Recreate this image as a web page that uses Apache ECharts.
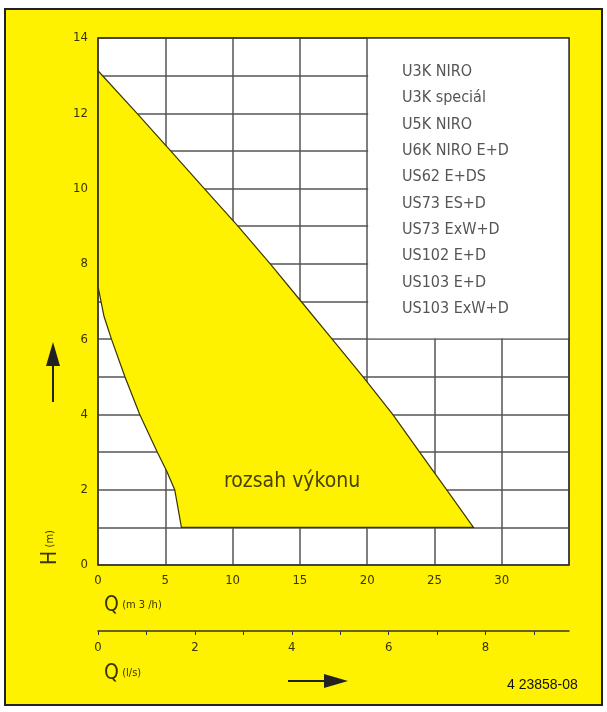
<!DOCTYPE html>
<html>
<head>
<meta charset="utf-8">
<script src="https://cdn.jsdelivr.net/npm/echarts@6/dist/echarts.min.js"></script>
<style>
  html, body { margin: 0; padding: 0; background: #fff; }
  #chart { width: 607px; height: 712px; }
</style>
</head>
<body>
<div id="chart"></div>
<script>
var chart = echarts.init(document.getElementById('chart'), null, { renderer: 'canvas' });

// horni hranice pole (Q m3/h, H m)
var upperQ = [0, 2.9, 5.4, 7.9, 10.4, 12.8, 15.1, 17.4, 19.7, 21.9, 23.9, 25.9, 27.9];
var upperH = [13.13, 12, 11, 10, 9, 8, 7, 6, 5, 4, 3, 2, 1];
// leva hranice pole
var lowerQ = [0, 0.45, 1.0, 2.0, 3.1, 4.4, 5.1, 5.7, 6.2];
var lowerH = [7.4, 6.6, 6, 5, 4, 3, 2.5, 2, 1];

var qTicks = [0, 5, 10, 15, 20, 25, 30];
var lsTicks = [0, 2, 4, 6, 8];
var hTicks = [0, 2, 4, 6, 8, 10, 12, 14];

var types = ['U3K NIRO', 'U3K speciál', 'U5K NIRO', 'U6K NIRO E+D', 'US62 E+DS',
    'US73 ES+D', 'US73 ExW+D', 'US102 E+D', 'US103 E+D', 'US103 ExW+D'];
var boxQ = [20, 35];
var boxH = [6, 14];

var yellow = '#fff200';
var ink = '#3a3500';
var font = 'DejaVu Sans Condensed, DejaVu Sans, sans-serif';

var poly = [];
for (var i = 0; i < upperQ.length; i++) poly.push([upperQ[i], upperH[i]]);
for (var j = lowerQ.length - 1; j >= 0; j--) poly.push([lowerQ[j], lowerH[j]]);

var legendTexts = types.map(function (t, k) {
    return {
        type: 'text', left: 402, top: 64 + k * 26.3, z: 20,
        style: { text: t, fill: '#555', font: '16px ' + font }
    };
});

function frameAxis(pos, max) {
    return {
        type: 'value', min: 0, max: max, position: pos, z: 5,
        axisLine: { show: true, onZero: false, lineStyle: { color: '#333', width: 1.5 } },
        axisTick: { show: false }, axisLabel: { show: false }, splitLine: { show: false }
    };
}

chart.setOption({
    backgroundColor: '#fff',
    animation: false,
    grid: {
        left: 98, top: 38, width: 471, height: 527,
        show: true, backgroundColor: '#fff', borderWidth: 0
    },
    xAxis: [
        {
            type: 'value', min: 0, max: 35, interval: 5,
            axisLine: { show: true, onZero: false, lineStyle: { color: '#333', width: 1.5 } },
            axisTick: { show: false },
            splitLine: { show: true, lineStyle: { color: '#555', width: 1.5 } },
            axisLabel: {
                margin: 9, color: ink, fontSize: 13, fontFamily: font,
                formatter: function (v) { return qTicks.indexOf(v) >= 0 ? v : ''; }
            }
        },
        {
            type: 'value', min: 0, max: 35 / 3.6, interval: 1, position: 'bottom', offset: 66,
            axisLine: { show: true, onZero: false, lineStyle: { color: '#333', width: 1.5 } },
            axisTick: { show: true, length: 4, lineStyle: { color: '#333' } },
            splitLine: { show: false },
            axisLabel: {
                margin: 10, color: ink, fontSize: 13, fontFamily: font,
                showMaxLabel: false,
                formatter: function (v) { return lsTicks.indexOf(v) >= 0 ? v : ''; }
            }
        },
        frameAxis('top', 35)
    ],
    yAxis: [
        {
            type: 'value', min: 0, max: 14, interval: 1,
            axisLine: { show: false },
            axisTick: { show: false },
            splitLine: { show: true, lineStyle: { color: '#555', width: 1.5 } },
            axisLabel: {
                margin: 10, color: ink, fontSize: 13, fontFamily: font,
                formatter: function (v) { return hTicks.indexOf(v) >= 0 ? v : ''; }
            }
        },
        frameAxis('left', 14),
        frameAxis('right', 14)
    ],
    graphic: [
        {
            type: 'rect', z: -10, silent: true,
            shape: { x: 5, y: 9, width: 597, height: 696 },
            style: { fill: yellow, stroke: '#222', lineWidth: 2 }
        },
        {
            type: 'text', left: 104, top: 595, z: 10,
            style: {
                text: '{a|Q} {b|(m 3 /h)}', fill: ink,
                rich: {
                    a: { fontSize: 21, fontFamily: font, fill: ink },
                    b: { fontSize: 11, fontFamily: font, fill: ink }
                }
            }
        },
        {
            type: 'text', left: 104, top: 663, z: 10,
            style: {
                text: '{a|Q} {b|(l/s)}', fill: ink,
                rich: {
                    a: { fontSize: 21, fontFamily: font, fill: ink },
                    b: { fontSize: 11, fontFamily: font, fill: ink }
                }
            }
        },
        {
            type: 'text', x: 40, y: 565, rotation: Math.PI / 2, z: 10,
            style: {
                text: '{a|H} {b|(m)}', fill: ink,
                rich: {
                    a: { fontSize: 21, fontFamily: font, fill: ink },
                    b: { fontSize: 11, fontFamily: font, fill: ink }
                }
            }
        },
        {
            type: 'line', z: 10,
            shape: { x1: 53, y1: 402, x2: 53, y2: 360 },
            style: { stroke: '#222', lineWidth: 2 }
        },
        {
            type: 'polygon', z: 10,
            shape: { points: [[53, 342], [46, 366], [60, 366]] },
            style: { fill: '#222' }
        },
        {
            type: 'line', z: 10,
            shape: { x1: 288, y1: 681, x2: 330, y2: 681 },
            style: { stroke: '#222', lineWidth: 2 }
        },
        {
            type: 'polygon', z: 10,
            shape: { points: [[348, 681], [324, 674], [324, 688]] },
            style: { fill: '#222' }
        },
        {
            type: 'text', left: 507, top: 678, z: 10,
            style: { text: '4 23858-08', fill: '#111', font: '14px Liberation Sans, Arial, sans-serif' }
        },
        {
            type: 'text', left: 224, top: 471, z: 10,
            style: { text: 'rozsah výkonu', fill: '#4a4300', font: '21px ' + font }
        }
    ].concat(legendTexts),
    series: [
        {
            type: 'custom',
            z: 2,
            silent: true,
            data: [0],
            renderItem: function (params, api) {
                var pts = poly.map(function (p) { return api.coord(p); });
                return {
                    type: 'polygon',
                    shape: { points: pts },
                    style: { fill: yellow, stroke: '#3a3500', lineWidth: 1.2 }
                };
            }
        },
        {
            type: 'custom',
            z: 2,
            silent: true,
            data: [0],
            renderItem: function (params, api) {
                var a = api.coord([boxQ[0], boxH[1]]);
                var b = api.coord([boxQ[1], boxH[0]]);
                return {
                    type: 'rect',
                    shape: { x: a[0] + 1, y: a[1], width: b[0] - a[0] - 1, height: b[1] - a[1] - 1 },
                    style: { fill: '#fff' }
                };
            }
        }
    ]
});
</script>
</body>
</html>
